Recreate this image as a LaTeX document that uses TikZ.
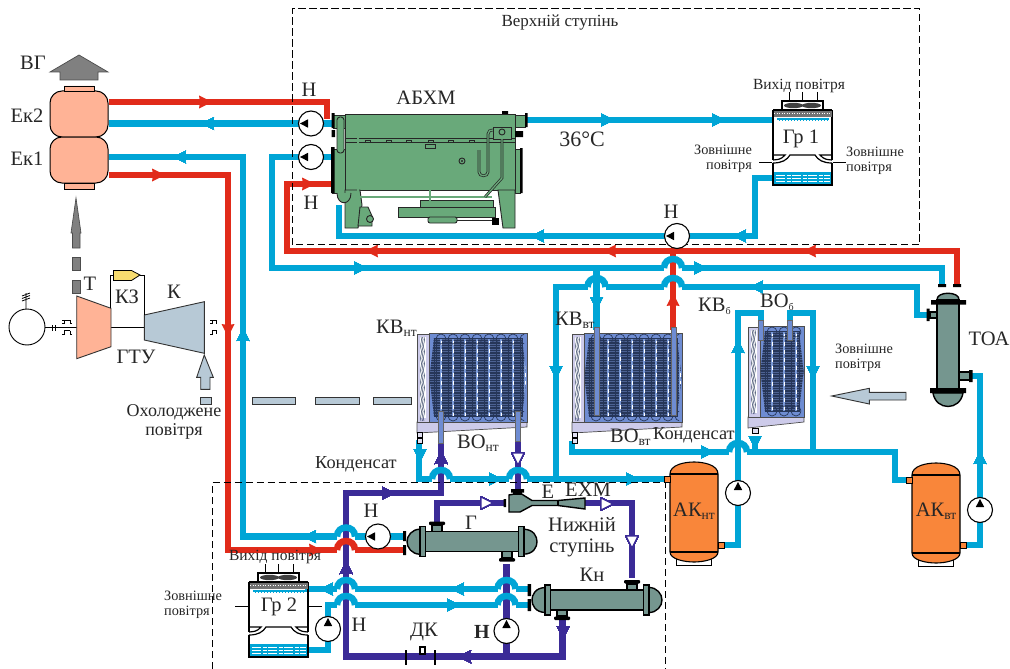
\documentclass[tikz,border=0pt]{standalone}
\usepackage{fontspec}
\setmainfont{Liberation Serif}
\definecolor{hotred}{HTML}{E12B1A}
\definecolor{coldblue}{HTML}{00A5D6}
\definecolor{glycol}{HTML}{3B2B97}
\definecolor{abxgreen}{HTML}{69A97A}
\definecolor{vesselgrey}{HTML}{75968F}
\definecolor{tankorange}{HTML}{F9863A}
\definecolor{salmon}{HTML}{FFB396}
\definecolor{airslate}{HTML}{B7C9D6}
\definecolor{gasgrey}{HTML}{808080}
\definecolor{fuelyellow}{HTML}{F7DC6F}
\definecolor{coolblue}{HTML}{6E8CD2}
\definecolor{coolgrid}{HTML}{263659}
\definecolor{coolbar}{HTML}{7C9BD8}
\definecolor{coollav}{HTML}{CDCBEA}
\tikzset{
  hot/.style={draw=hotred,line width=6.5pt},
  cold/.style={draw=coldblue,line width=6.5pt},
  gly/.style={draw=glycol,line width=6.5pt},
  lb/.style={font=\fontsize{20.5}{20.5}\selectfont,text=black!85,inner sep=0pt},
  lbs/.style={font=\fontsize{15.5}{15.5}\selectfont,text=black!85,inner sep=0pt,align=left},
  lbz/.style={font=\fontsize{14.3}{15}\selectfont,text=black!85,inner sep=0pt,align=left},
  pump/.style={circle,draw=black,fill=white,line width=1.1pt,minimum size=25pt,inner sep=0pt},
  ekbox/.style={rectangle,rounded corners=12pt,draw=black,fill=salmon,line width=1pt,minimum width=58pt,minimum height=46pt},
  vessel/.style={draw=black,fill=vesselgrey,line width=1.4pt},
  abx/.style={draw=black!85,fill=abxgreen,line width=.9pt},
  abxpipe/.style={draw=black!85,double=abxgreen,double distance=1.3pt,line width=.7pt},
  frame/.style={dashed,dash pattern=on 7pt off 4pt,line width=.8pt,black},
  air/.style={draw=black!80,fill=airslate,line width=.9pt},
  gas/.style={draw=black!70,fill=gasgrey,line width=.7pt}
}
\newcommand{\flow}[4]{\fill[#1,shift={(#2,#3)},rotate=#4] (7,0) -- (-6,6.5) -- (-5,0) -- (-6,-6.5) -- cycle;}
\newcommand{\flowopen}[3]{\draw[glycol,fill=white,line width=1.2pt,shift={(#1,#2)},rotate=#3] (6,0) -- (-6,6) -- (-6,-6) -- cycle;}
\newcommand{\pump}[3]{\node[pump] (#1) at (#2) {};
  \fill[black,shift={(#2)},rotate=#3] (11,0) -- (3,4.2) -- (3,-4.2) -- cycle;}
\newcommand{\low}[1]{\raisebox{-3pt}{\fontsize{13.5}{13.5}\selectfont #1}}
\newcommand{\exch}[3]{\begin{scope}[shift={(#1,#2)},xscale=#3]
  \draw[vessel] (-40,-16) rectangle (-30,-10);
  \draw[vessel] (30,16) rectangle (40,10);
  \fill[black,rounded corners=1pt] (-43,-20) rectangle (-27,-16.5);
  \fill[black,rounded corners=1pt] (27,16.5) rectangle (43,20);
  \draw[vessel] (-49,-10) rectangle (49,10);
  \draw[vessel] (51,-12.5) .. controls (62,-12.5) and (65,-5) .. (65,0) .. controls (65,5) and (62,12.5) .. (51,12.5) -- cycle;
  \draw[vessel] (-52,-12.5) .. controls (-60,-12.5) and (-65,-6) .. (-65,0) .. controls (-65,6) and (-60,12.5) .. (-52,12.5) -- cycle;
  \draw[vessel] (-52,-15) rectangle (-46.5,15);
  \draw[vessel] (46.5,-15) rectangle (52,15);
\end{scope}}
\newcommand{\tank}[2]{\begin{scope}[shift={(#1,#2)}]
  \fill[white,draw=black,line width=.8pt] (6,96) rectangle (41,103);
  \draw[draw=black,fill=tankorange,line width=1.1pt] (0,12) .. controls (0,3) and (14,0) .. (24,0) .. controls (34,0) and (48,3) .. (48,12) -- (48,90) .. controls (48,97) and (34,100) .. (24,100) .. controls (14,100) and (0,97) .. (0,90) -- cycle;
  \draw[line width=1.1pt] (0,12) -- (48,12) (0,90) -- (48,90);
\end{scope}}
\newcommand{\cooler}[4]{\begin{scope}[shift={(#1,#2)}]
  \draw[draw=black!70,fill=coollav,line width=.7pt] (0,#4) -- (#3,#4) -- (#3,#4+5) -- (0,#4+11) -- cycle;
  \draw[draw=black!70,fill=coollav,line width=.7pt] (0,1) rectangle (12,#4);
  \fill[white] (3,4) rectangle (9,#4-4);
  \foreach \wv in {4,5.5,7} \draw[coolgrid,line width=.45pt] (\wv,4) \foreach \st in {4,16,...,76} {.. controls (\wv+2,\st+3) and (\wv-2,\st+9) .. (\wv,\st+12)};
  \draw[draw=black!70,fill=coolblue,line width=.7pt] (12,0) rectangle (#3,#4);
  \begin{scope}
    \clip (17,5) -- (#3-5,5) -- (#3-.5,#4/2) -- (#3-5,#4-6) -- (17,#4-6) -- (12.5,#4/2) -- cycle;
    \fill[coolblue!70!black] (0,0) rectangle (#3,#4);
    \foreach \gy in {5,7.5,...,95} \draw[coolgrid,line width=1.2pt] (0,\gy) -- (#3,\gy);
    \foreach \gx in {23,35,...,120} {\fill[coolbar] (\gx,0) rectangle (\gx+2.4,#4);
      \draw[white,line width=.6pt,dash pattern=on 4pt off 4pt] (\gx+1.2,0) -- (\gx+1.2,#4);
      \draw[coolgrid,line width=.7pt] (\gx-3.5,0) -- (\gx-3.5,#4);}
  \end{scope}
  \begin{scope}
    \clip (13,0) rectangle (#3-3,#4);
    \foreach \gx in {24,36,...,120} {\draw[coolgrid,line width=.7pt] (\gx,6) circle (5);
      \draw[coolgrid,line width=.7pt] (\gx,#4-6) circle (5);}
  \end{scope}
  \draw[coolgrid,line width=.8pt] (17,5) rectangle (#3-5,#4-6);
\end{scope}}
\newcommand{\tower}[3]{\begin{scope}[shift={(#1,#2)}]
  \foreach \fx in {16,29.7,44} \draw[line width=1pt] (\fx,-18) -- (\fx,-9);
  \draw[line width=1.1pt] (9,0) -- (9,-9) -- (50,-9) -- (50,0);
  \fill[black!75] (20.5,-4.5) ellipse (9.5 and 2.7) (38.5,-4.5) ellipse (9.5 and 2.7);
  \draw[line width=1.2pt] (0,0) -- (0,50) (59,0) -- (59,50) (0,0) -- (59,0);
  \draw[line width=1.2pt] (0,45) -- (12,45) .. controls (8,50) and (4,49.5) .. (0,50);
  \draw[line width=1.2pt] (59,45) -- (47,45) .. controls (51,50) and (55,49.5) .. (59,50);
  \draw[line width=1.2pt] (0,53) .. controls (9,53) and (14,50) .. (17,45) -- (42,45) .. controls (45,50) and (50,53) .. (59,53);
  \fill[black!55] (.5,.5) rectangle (58.5,7);
  \draw[white,line width=1.3pt,dash pattern=on 1.3pt off 1.2pt] (1,3.7) -- (58,3.7);
  \fill[coldblue] (4,8) rectangle (56,11);
  \draw[white,line width=.6pt,dash pattern=on 2pt off 1pt] (4,10.6) -- (56,10.6);
  \fill[coldblue] (1,62) rectangle (58,74.4);
  \foreach \wy in {65,68,71} \draw[white,line width=.8pt,dash pattern=on 9pt off 1.5pt on 4pt off 1.5pt] (3,\wy) -- (57,\wy);
  \draw[line width=1.2pt] (0,53) -- (0,75) -- (59,75) -- (59,53);
  \draw[line width=1pt] (-14,#3) -- (-1,#3) (60,#3) -- (73,#3);
\end{scope}}
\begin{document}
\begin{tikzpicture}[x=1pt,y=-1pt]
\useasboundingbox (0,0) rectangle (1010,669);
\node[ekbox] (ek2) at (79,114) {};
\node[ekbox] (ek1) at (79,160) {};
\coordinate (ek2hot) at ([yshift=12pt]ek2.east);
\coordinate (ek2cold) at ([yshift=-9.5pt]ek2.east);
\coordinate (ek1cold) at ([yshift=3pt]ek1.east);
\coordinate (ek1hot) at ([yshift=-15pt]ek1.east);
\coordinate (n1) at (311,123.5);
\coordinate (n2) at (311,157);
\coordinate (n3) at (378,536.5);
\coordinate (n4) at (677,236);
\coordinate (n5) at (738,493);
\coordinate (n6) at (980,510);
\coordinate (n7) at (328,629);
\coordinate (n8) at (506.5,631);
\coordinate (abxhot) at (327,119);
\coordinate (abxcold) at (334,123.5);
\coordinate (abxcold2) at (334,157);
\coordinate (abxhot2) at (334,184);
\coordinate (abxout) at (527,120);
\coordinate (abxret) at (339,205);
\coordinate (grin) at (773,120);
\coordinate (grout) at (773,178);
\coordinate (grdown) at (755,236);
\coordinate (rlow) at (228,550);
\coordinate (ghot) at (404,550);
\coordinate (gcold) at (404,536.5);
\coordinate (rtop) at (287,251);
\coordinate (toahot) at (957,284);
\coordinate (toacold) at (942,284);
\coordinate (bmid) at (272,268);
\coordinate (blow) at (243,536.5);
\coordinate (toaside) at (930,315);
\coordinate (bside) at (917,287);
\coordinate (bdown) at (556,479);
\coordinate (kntdrain) at (419,440);
\coordinate (akntin) at (666,479);
\coordinate (vtdrain) at (572,441);
\coordinate (cond) at (895,452);
\coordinate (akvtin) at (908,480);
\coordinate (vobdrain) at (755,436);
\coordinate (vobjoin) at (755,452);
\coordinate (vobr) at (790,322);
\coordinate (vobc) at (813,313);
\coordinate (vobd) at (813,452);
\coordinate (vobt) at (738,313);
\coordinate (vobl) at (761,322);
\coordinate (akntout) at (722,545);
\coordinate (akvtout) at (964,545);
\coordinate (toaport) at (970,376);
\coordinate (kvb) at (596.5,268);
\coordinate (kvvtl) at (596.5,330);
\coordinate (rj) at (673,251);
\coordinate (kvvtr) at (673,330);
\coordinate (gr2in) at (305,589);
\coordinate (gr2out) at (305,650);
\coordinate (knc1) at (530,589);
\coordinate (knc2) at (530,605);
\coordinate (kntl) at (441,441);
\coordinate (kntr) at (518,441);
\coordinate (ptop) at (346,493);
\coordinate (pbot) at (562.5,656.5);
\coordinate (knbot) at (562.5,617);
\coordinate (kntop) at (632,578);
\coordinate (gtop) at (437,523);
\coordinate (gbot) at (506.5,564);
\coordinate (ejin) at (505,503);
\coordinate (ejout) at (585,503);
\coordinate (ejtop) at (518,490);
\coordinate (pdk) at (506.5,656.5);
\draw[hot] (ek2hot) -| (abxhot);
\draw[hot] (ek1hot) -| (rlow) -- (ghot);
\draw[hot] (toahot) |- (rtop) |- (abxhot2);
\draw[cold] (abxcold) -- (n1) -- (ek2cold);
\draw[cold] (abxcold2) -- (n2) -| (bmid) -| (toacold);
\draw[cold] (ek1cold) -| (blow) -- (n3) -- (gcold);
\draw[cold] (abxout) -- (grin);
\draw[cold] (grout) -| (grdown) -- (n4) -| (abxret);
\draw[cold] (toaside) -| (bside) -| (bdown);
\draw[cold] (kntdrain) |- (akntin);
\draw[cold] (vtdrain) |- (cond) |- (akvtin);
\draw[cold] (vobdrain) -- (vobjoin);
\draw[cold] (vobr) |- (vobc) -- (vobd);
\draw[cold] (akvtout) -| (n6) |- (toaport);
\draw[cold] (knc1) -- (gr2in);
\draw[cold] (gr2out) -| (n7) |- (knc2);
\foreach \hx/\hy in {673/268,673/287,596.5/287,346/536.5,346/550,346/589,346/605,506.5/589,506.5/605,441/479,518/479,738/452}
  \fill[white] (\hx-9,\hy-3.8) rectangle (\hx+9,\hy+3.8);
\draw[hot] (rj) -- (kvvtr);
\draw[cold] (kvb) -- (kvvtl);
\draw[cold] (akntout) -| (n5) -- (vobt) -| (vobl);
\draw[gly] (kntl) |- (ptop) |- (pbot) -- (knbot);
\draw[gly] (gtop) |- (ejin);
\draw[gly] (ejout) -| (kntop);
\draw[gly] (gbot) -- (n8) -- (pdk);
\draw[gly] (kntr) -- (ejtop);
\foreach \hx/\hy/\hc in {673/268/coldblue,673/287/coldblue,596.5/287/coldblue,346/536.5/coldblue,346/550/hotred,346/589/coldblue,346/605/coldblue,506.5/589/coldblue,506.5/605/coldblue,441/479/coldblue,518/479/coldblue,738/452/coldblue}
  \draw[\hc,line width=6.5pt] (\hx-9,\hy) .. controls (\hx-9,\hy-12) and (\hx+9,\hy-12) .. (\hx+9,\hy);
\foreach \ax/\ay/\ar in {205/102/0,158/175/0,228/330/-90,315/550/0,308/184/0,810/251/180,610/251/180,372/251/180,673/300/90}
  \flow{hotred}{\ax}{\ay}{\ar}
\foreach \ax/\ay/\ar in {208/123.5/180,180/157/180,243/335/90,310/536.5/180,607/120/0,718/120/0,538/236/180,740/236/180,700/268/0,360/268/0,757/287/180,556/372/-90,596.5/303/-90,420/455/-90,495/479/0,632/479/0,707/452/0,738/347/90,813/372/-90,755/442/-90,980/458/90,327/589/180,458/589/180,453/605/0}
  \flow{coldblue}{\ax}{\ay}{\ar}
\foreach \ax/\ay/\ar in {388/493/0,346/568/90,441/458/90,465/656.5/180,563/632/-90}
  \flow{glycol}{\ax}{\ay}{\ar}
\flowopen{518}{459}{-90}
\flowopen{487}{503}{0}
\flowopen{607}{504}{0}
\flowopen{632}{542}{-90}
\draw[frame] (292.5,244.5) -- (292.5,8.5) -- (919.5,8.5) -- (919.5,244.5) -- cycle;
\draw[frame] (212,669) -- (212,482.5) -- (665,482.5) -- (665,669);
\pump{pn1}{n1}{180}
\pump{pn2}{n2}{180}
\pump{pn3}{n3}{180}
\pump{pn4}{n4}{180}
\pump{pn5}{n5}{90}
\pump{pn6}{n6}{90}
\pump{pn7}{n7}{90}
\pump{pn8}{n8}{90}
\draw[draw=black,fill=salmon,line width=.8pt] (64,86) rectangle (94,91) (64,183) rectangle (94,189);
\draw[gas] (79,55) -- (108,72) -- (98,72) -- (98,80) -- (60,80) -- (60,72) -- (50,72) -- cycle;
\draw[gas] (76,198) -- (81,233) -- (80,233) -- (80,248) -- (72.5,248) -- (72.5,233) -- (71,233) -- cycle;
\draw[gas] (72.7,257) rectangle (80,270) (72.7,280) rectangle (80,293);
\draw[line width=.9pt] (27,327) circle (18);
\draw[line width=.8pt] (26,309) -- (26,293) (22,301) -- (30,298) (22,298.5) -- (30,295.5) (22,296) -- (30,293);
\draw[line width=.8pt] (45,327) -- (77,327) (111,327) -- (145,327);
\draw[line width=.8pt] (52,325) -- (52,331) (55,325) -- (55,331);
\draw[line width=.8pt] (62,320) -- (70,320) (62,323.5) -- (64,323.5) -- (64,320) (70,320) -- (70,323.5) -- (72,323.5);
\draw[line width=.8pt] (62,334) -- (64,334) -- (64,330.5) -- (70,330.5) (70,330.5) -- (70,334) -- (72,334);
\draw[line width=.8pt] (210,320) -- (216,320) (210,323.5) -- (212,323.5) -- (212,320) (216,320) -- (216,323.5);
\draw[line width=.8pt] (210,334) -- (212,334) -- (212,330.5) -- (216,330.5) -- (216,334);
\draw[draw=black!80,fill=salmon,line width=.9pt] (76.7,296) -- (111,308.3) -- (111,346.7) -- (76.7,358.7) -- cycle;
\draw[air] (144.3,315) -- (204.3,301.7) -- (204.3,353.3) -- (144.3,340) -- cycle;
\draw[line width=.8pt] (110.5,308) -- (110.5,275) -- (114,275) (140,275) -- (144.5,275) -- (144.5,315);
\draw[draw=black,fill=fuelyellow,line width=.8pt] (113.5,270.5) -- (131.5,270.5) -- (140,275) -- (131.5,280.5) -- (113.5,280.5) -- cycle;
\draw[air] (204.3,355) -- (213.3,377.3) -- (210,377.3) -- (210,389.3) -- (200.7,389.3) -- (200.7,377.3) -- (196.7,377.3) -- cycle;
\draw[air] (200,397) rectangle (211,404) (252,397) rectangle (295.7,404) (315,397) rectangle (359,404) (373,397) rectangle (411.7,404);
\draw[air] (831.7,396) -- (869.3,388.3) -- (869.3,392.3) -- (906,392.3) -- (906,400) -- (869.3,400) -- (869.3,404) -- cycle;
\draw[abx] (345,114) rectangle (515,190);
\draw[abx] (333,115) rectangle (345,128) (515,115) rectangle (525,127);
\fill[black] (331.5,113) rectangle (334.5,128) (525,113) rectangle (527.5,127) (331.5,130) rectangle (335,137) (515,131) rectangle (523,137);
\draw[abx] (332,149) rectangle (345,193) (515,149) rectangle (520,193);
\fill[black] (331,147) rectangle (334.5,193) (520,148) rectangle (522.5,193) (502,111) rectangle (508,114);
\draw[line width=.9pt,black!85] (345,138) -- (515,138) (345,142) -- (515,142);
\foreach \rx in {365,386,406,428,448,469} \draw[abx,line width=.7pt] (\rx,140) rectangle (\rx+5,142.5);
\draw[abx,rounded corners=3pt] (337,117) rectangle (344,153);
\draw[abx] (345,190) -- (345,228) -- (358,228) -- (362,205) -- (360,190) -- cycle;
\draw[abx] (498,190) -- (503,228) -- (515,228) -- (515,190) -- cycle;
\draw[abx] (360,207) -- (368,207) -- (372,216) -- (372,226) -- (358,226) -- cycle;
\draw[abx] (370,219) circle (3.5);
\draw[abx] (420,200) rectangle (493,207);
\draw[abx] (398,207) rectangle (495,217);
\draw[abx,rounded corners=2pt] (428,217) rectangle (457,223);
\draw[line width=1pt,black!85] (457,220) -- (497,220);
\fill[black] (492,218) rectangle (499,225);
\draw[abxpipe] (358,127) -- (358,197) -- (492,197);
\draw[abxpipe] (430,147) -- (430,207);
\draw[abx] (425,144.5) rectangle (435,148);
\draw[abx] (462,161) circle (3);
\fill[black!85] (462,161) circle (1.2);
\draw[abxpipe] (479,150) -- (479,172) .. controls (479,177) and (488,177) .. (488,172) -- (488,134) .. controls (488,131) and (490,130) .. (494,130);
\draw[abx] (493,127) rectangle (511,139);
\draw[abx] (502,132) circle (3);
\draw[abxpipe] (502,139) -- (502,178) -- (485,197);
\draw[abx] (337,193) .. controls (337,206) and (351,206) .. (351,193);
\tower{773}{110}{52}
\tower{249}{582}{24}
\fill[black] (403,531) rectangle (406,541) (403,545) rectangle (406,555);
\fill[coldblue] (400.5,533) rectangle (403,540);
\fill[hotred] (400.5,547) rectangle (403,553);
\exch{472}{541.7}{1}
\exch{597}{600}{-1}
\fill[black] (527.5,584) rectangle (531,596) (527.5,599) rectangle (531,611);
\draw[vessel] (509,495) -- (520,493) -- (532,500.5) -- (558,500.5) -- (585,498) -- (585,509) -- (558,505.5) -- (532,505.5) -- (520,512) -- (509,512) -- cycle;
\draw[line width=1.1pt] (558,500.5) -- (558,505.5);
\fill[black] (511,489) rectangle (524,492.5) (503.5,499) rectangle (506,507);
\draw[vessel] (514,492) rectangle (521,494);
\cooler{417}{333}{110}{89}
\cooler{572}{333}{110}{89}
\cooler{748}{326}{56}{91}
\foreach \tx/\ty/\tb in {441/411/443,518/411/441,596.5/327/415,673.5/327/415,760.5/320/340,790/320/340}
  \draw[draw=black!60,fill=coolblue,line width=.6pt] (\tx-2.5,\ty) rectangle (\tx+2.5,\tb);
\draw[draw=black,fill=coollav!60,line width=.6pt] (417.5,432) rectangle (422,437) (417.5,438) rectangle (422,443) (572.5,432) rectangle (577,437) (572.5,438) rectangle (577,443) (752,428) rectangle (758,433);
\draw[vessel] (930,312) rectangle (938,318) (959,372) rectangle (970,380);
\fill[black] (926.5,308.5) rectangle (929.5,321) (969,370) rectangle (972.5,382);
\fill[black] (938,284) rectangle (946,287) (953,284) rectangle (961,287);
\draw[vessel] (937,300) .. controls (936,291) and (960,291) .. (959,300) -- cycle;
\draw[vessel] (937,300) rectangle (959,390);
\draw[vessel] (933,393) .. controls (936,411) and (960,411) .. (963,393) -- cycle;
\fill[black] (931,300) rectangle (966,304.5) (930,388) rectangle (966,393);
\tank{670}{462}
\tank{912}{463}
\draw[draw=black,fill=tankorange,line width=.7pt] (664.5,476) rectangle (670,482) (718,542) rectangle (724,548) (906,477) rectangle (912,483) (960,542) rectangle (966,548);
\draw[line width=1.2pt] (406,650) -- (406,665) (435,650) -- (435,665);
\draw[fill=white,line width=1.1pt] (420,647) rectangle (425,654);
\node[lb] (lbvg) at (33,63) {ВГ};
\node[lb] (lbek2) at (27,116) {Ек2};
\node[lb] (lbek1) at (27,159) {Ек1};
\node[lb] (lbn1) at (309,90) {Н};
\node[lb] (lbn2) at (311,203) {Н};
\node[lb] (lbabx) at (426,98) {АБХМ};
\node[lb,font=\fontsize{22}{22}\selectfont] (lbt) at (582,139) {36°C};
\node[lb,font=\fontsize{17}{17}\selectfont] (lbup) at (560,23) {Верхній ступінь};
\node[lb] (lbn4) at (671,212) {Н};
\node[lbs] (lbout1) at (799,86) {Вихід повітря};
\node[lb] (lbgr1) at (801,139) {Гр 1};
\node[lbz,align=right] (lbair1) at (723,159) {Зовнішне\\повітря};
\node[lbz] (lbair2) at (875,161) {Зовнішне\\повітря};
\node[lb] (lbt1) at (90,284) {Т};
\node[lb] (lbkz) at (127,297) {КЗ};
\node[lb] (lbk) at (174,292) {К};
\node[lb] (lbgtu) at (136,357) {ГТУ};
\node[lb,align=center,font=\fontsize{18}{19}\selectfont] (lbcool) at (174,422) {Охолоджене\\повітря};
\node[lb,anchor=west] (lbkvnt) at (376,328) {КВ\low{нт}};
\node[lb,anchor=west] (lbkvvt) at (555,320) {КВ\low{вт}};
\node[lb,anchor=west] (lbvont) at (457,443) {ВО\low{нт}};
\node[lb,anchor=west] (lbvovt) at (610,437) {ВО\low{вт}};
\node[lb,anchor=west] (lbkvb) at (698,306) {КВ\raisebox{-3pt}{\fontsize{10}{10}\selectfont б}};
\node[lb,anchor=west] (lbvob) at (760,302) {ВО\raisebox{-3pt}{\fontsize{10}{10}\selectfont б}};
\node[lb,font=\fontsize{18.3}{18.3}\selectfont,anchor=west] (lbcon1) at (315,464) {Конденсат};
\node[lb,font=\fontsize{18.3}{18.3}\selectfont,anchor=west] (lbcon2) at (653,435) {Конденсат};
\node[lb] (lbtoa) at (989,339) {ТОА};
\node[lbz] (lbair3) at (864,358) {Зовнішне\\повітря};
\node[lb] (lbakn) at (694,511) {АК\low{нт}};
\node[lb] (lbakv) at (936,511) {АК\low{вт}};
\node[lb] (lbe) at (548,492) {Е};
\node[lb] (lbexm) at (588,490) {ЕХМ};
\node[lb] (lbg) at (471,523) {Г};
\node[lb,align=center,font=\fontsize{20.5}{20.5}\selectfont] (lbnizh) at (582,537) {Нижній\\ступінь};
\node[lb] (lbkn) at (592,575) {Кн};
\node[lb] (lbdk) at (424,632) {ДК};
\node[lb,font=\bfseries\fontsize{20}{20}\selectfont] (lbn8) at (482,632) {Н};
\node[lb] (lbn7) at (359,625) {Н};
\node[lb] (lbn3) at (371,511) {Н};
\node[lb] (lbgr2) at (279,607) {Гр 2};
\node[lbs] (lbout2) at (275,557) {Вихід повітря};
\node[lbz] (lbair4) at (193,605) {Зовнішне\\повітря};
\end{tikzpicture}
\end{document}
